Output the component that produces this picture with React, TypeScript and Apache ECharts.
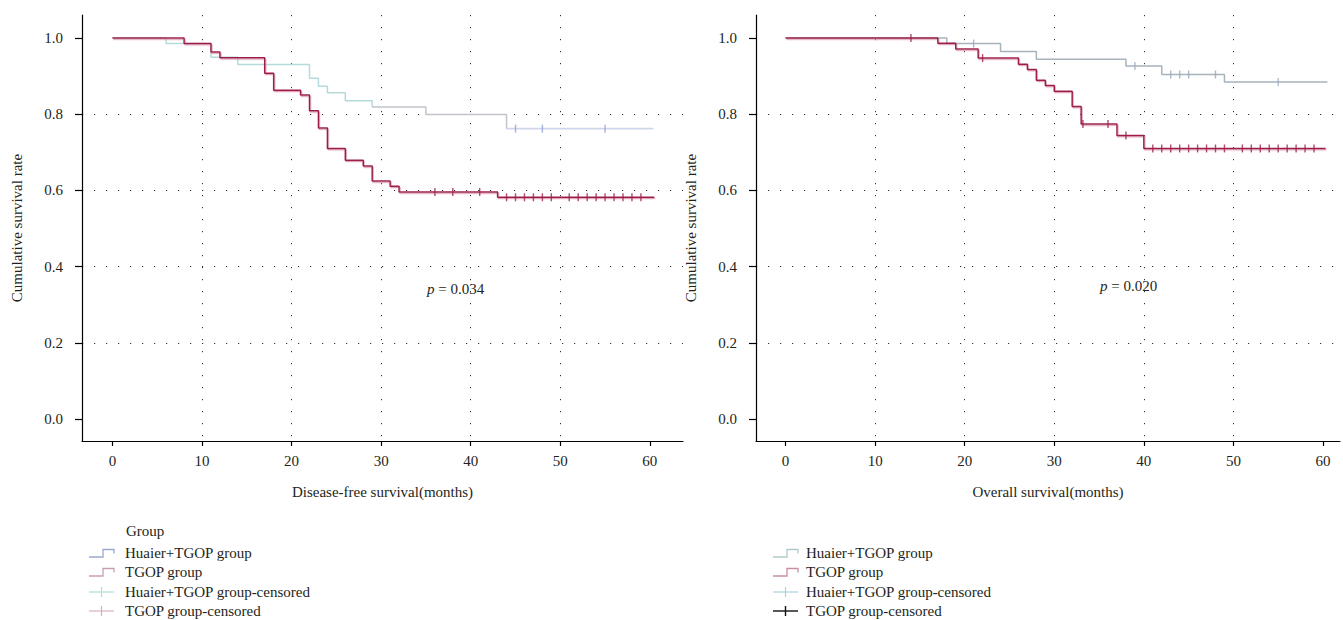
import React, { useEffect, useRef } from 'react';
import * as echarts from 'echarts';

// ---------- data ----------
const monthTicks = [0, 10, 20, 30, 40, 50, 60];
const rateTicks = [0, 0.2, 0.4, 0.6, 0.8, 1.0];

// Disease-free survival: [month, cumulative survival after the step]
const dfsHuaierCurve: [number, number][] = [
  [0, 1], [6, 0.985], [11, 0.949], [14, 0.93], [22, 0.894], [23, 0.873], [24, 0.856],
  [26, 0.835], [29, 0.819], [35, 0.799], [44, 0.762], [60.4, 0.762],
];
const dfsHuaierCensored = [45, 48, 55];
const dfsTgopCurve: [number, number][] = [
  [0, 1], [8, 0.985], [11, 0.963], [12, 0.948], [17, 0.907], [18, 0.863], [21, 0.85],
  [22, 0.809], [23, 0.764], [24, 0.71], [26, 0.679], [28, 0.664], [29, 0.625], [31, 0.611],
  [32, 0.596], [43, 0.582], [60.5, 0.582],
];
const dfsTgopCensored = [36, 38, 41, 44, 45, 46, 47, 48, 49, 51, 52, 53, 54, 55, 56, 57, 58, 59];

// Overall survival
const osHuaierCurve: [number, number][] = [
  [0, 1], [18, 0.985], [24, 0.964], [28, 0.944], [38, 0.926], [42, 0.904], [49, 0.884], [60.5, 0.884],
];
const osHuaierCensored = [21, 39, 43, 44, 45, 48, 55];
const osTgopCurve: [number, number][] = [
  [0, 1], [17, 0.986], [19, 0.971], [21.5, 0.947], [26, 0.931], [27, 0.917], [28, 0.889],
  [29, 0.875], [30, 0.86], [32, 0.82], [33, 0.774], [37, 0.744], [40, 0.71], [60.3, 0.71],
];
const osTgopCensored = [14, 22, 33.2, 36, 38, 41, 42, 43, 44, 45, 46, 47, 48, 49, 51, 52, 53, 54, 55, 56, 57, 58, 59];

const dfsP = '0.034';
const osP = '0.020';
const legendTitle = 'Group';
const legendItems = ['Huaier+TGOP group', 'TGOP group', 'Huaier+TGOP group-censored', 'TGOP group-censored'];
const xNames = ['Disease-free survival(months)', 'Overall survival(months)'];
const yName = 'Cumulative survival rate';

// ---------- helpers ----------
function survivalAt(curve: [number, number][], t: number) {
  let v = curve[0][1];
  for (const [x, y] of curve) {
    if (x <= t) v = y;
    else break;
  }
  return v;
}
function sliceCurve(curve: [number, number][], from: number, to: number): [number, number][] {
  const out: [number, number][] = [];
  if (!curve.some(([x]) => x === from)) out.push([from, survivalAt(curve, from)]);
  for (const p of curve) if (p[0] >= from && p[0] <= to) out.push(p);
  return out;
}
const censorPoints = (curve: [number, number][], times: number[]) => times.map((t) => [t, survivalAt(curve, t)]);

const FONT = '"Liberation Serif", "Times New Roman", serif';
const TEXT = '#231f20';
const RED = '#9e1f4b';

export default function App() {
  const ref = useRef<HTMLDivElement>(null);
  useEffect(() => {
    document.body.style.margin = '0';
    const chart = echarts.init(ref.current!, undefined, { renderer: 'svg' });

    const grids = [
      { left: 82, top: 15, width: 601, height: 426 },
      { left: 756, top: 15, width: 584, height: 426 },
    ];
    const xRanges = [[-3.4, 63.7], [-3.3, 61.9]];

    const xAxis = grids.map((_, i) => ({
      type: 'value', gridIndex: i, min: xRanges[i][0], max: xRanges[i][1], splitNumber: 6,
      name: xNames[i], nameLocation: 'middle', nameGap: 43,
      nameTextStyle: { fontFamily: FONT, fontSize: 15, color: TEXT },
      axisLine: { show: true, onZero: false, lineStyle: { color: '#000', width: 1.2 } },
      axisTick: { show: true, inside: false, length: 5, customValues: monthTicks, lineStyle: { color: '#000', width: 1.2 } },
      axisLabel: { customValues: monthTicks, fontFamily: FONT, fontSize: 15, color: TEXT, margin: 12 },
      splitLine: { show: true, showMinLine: false, showMaxLine: false, lineStyle: { type: [1.2, 10.8], color: '#333', width: 1 } },
    }));
    const yAxis = grids.map((_, i) => ({
      type: 'value', gridIndex: i, min: -0.057, max: 1.06, splitNumber: 5,
      name: yName, nameLocation: 'middle', nameGap: 58,
      nameTextStyle: { fontFamily: FONT, fontSize: 15, color: TEXT },
      axisLine: { show: true, onZero: false, lineStyle: { color: '#000', width: 1.2 } },
      axisTick: { show: true, inside: false, length: 7, customValues: rateTicks, lineStyle: { color: '#000', width: 1.2 } },
      axisLabel: { customValues: rateTicks, fontFamily: FONT, fontSize: 15, color: TEXT, margin: 19, formatter: (v: number) => v.toFixed(1) },
      splitLine: { show: true, showMinLine: false, showMaxLine: false, lineStyle: { type: [1.2, 10.8], color: '#333', width: 1 } },
    }));

    const stepLine = (data: [number, number][], gi: number, color: string, width = 1.4, shadow?: string) => ({
      type: 'line', step: 'end', xAxisIndex: gi, yAxisIndex: gi, data, symbol: 'none', silent: true,
      lineStyle: shadow
        ? { color, width, shadowColor: shadow, shadowOffsetX: 0.8, shadowOffsetY: 1.2, shadowBlur: 0 }
        : { color, width },
      z: 3,
    });
    const censor = (data: number[][], gi: number, color: string) => ({
      type: 'scatter', xAxisIndex: gi, yAxisIndex: gi, data, symbol: 'rect', symbolSize: [1.4, 8],
      itemStyle: { color }, silent: true, z: 5,
    });

    const series = [
      // DFS
      stepLine(sliceCurve(dfsHuaierCurve, 0, 29), 0, '#b4dada', 1.5),
      stepLine(sliceCurve(dfsHuaierCurve, 29, 44), 0, '#c2c4cb', 1.5),
      stepLine(sliceCurve(dfsHuaierCurve, 44, 61), 0, '#cfd6ec', 1.8),
      stepLine(dfsTgopCurve, 0, RED, 1.5, 'rgba(214,140,165,0.85)'),
      censor(censorPoints(dfsHuaierCurve, dfsHuaierCensored), 0, '#8e9fd4'),
      censor(censorPoints(dfsTgopCurve, dfsTgopCensored), 0, RED),
      // OS
      stepLine(osHuaierCurve, 1, '#a7b3bd', 1.5),
      stepLine(osTgopCurve, 1, RED, 1.5, 'rgba(214,140,165,0.85)'),
      censor(censorPoints(osHuaierCurve, osHuaierCensored), 1, '#98a7bb'),
      censor(censorPoints(osTgopCurve, osTgopCensored), 1, RED),
    ];

    const textEl = (x: number, y: number, text: string, extra: any = {}) => ({
      type: 'text', x, y, silent: true,
      style: { text, fontFamily: FONT, fontSize: 15, fill: TEXT, verticalAlign: 'middle', align: 'left', ...extra },
    });
    const stepIcon = (x: number, y: number, color: string) => ({
      type: 'polyline', silent: true,
      shape: { points: [[x, y + 4], [x + 14, y + 4], [x + 14, y - 3.5], [x + 25, y - 3.5], [x + 25, y + 0.5]] },
      style: { stroke: color, lineWidth: 1.3, fill: null },
    });
    const plusIcon = (x: number, y: number, color: string, w = 1.2) => ({
      type: 'group', silent: true,
      children: [
        { type: 'line', shape: { x1: x, y1: y, x2: x + 25, y2: y }, style: { stroke: color, lineWidth: w } },
        { type: 'line', shape: { x1: x + 12.5, y1: y - 5, x2: x + 12.5, y2: y + 5 }, style: { stroke: color, lineWidth: w } },
      ],
    });

    const rowsY = [553, 572, 592, 611];
    const leftIconColors = ['#9aaacb', '#c9a0b3'];
    const leftPlusColors = ['#b3dbd7', '#d8afc0'];
    const rightIconColors = ['#b2c9c9', '#c98ea2'];
    const rightPlusColors = ['#a9d3d8', '#111111'];

    const graphic: any[] = [
      textEl(126, 531, legendTitle),
      stepIcon(89, rowsY[0], leftIconColors[0]),
      stepIcon(89, rowsY[1], leftIconColors[1]),
      plusIcon(89, rowsY[2], leftPlusColors[0]),
      plusIcon(89, rowsY[3], leftPlusColors[1]),
      stepIcon(773, rowsY[0], rightIconColors[0]),
      stepIcon(773, rowsY[1], rightIconColors[1]),
      plusIcon(773, rowsY[2], rightPlusColors[0]),
      plusIcon(773, rowsY[3], rightPlusColors[1], 1.4),
      ...legendItems.map((t, i) => textEl(125, rowsY[i], t)),
      ...legendItems.map((t, i) => textEl(806, rowsY[i], t)),
      {
        type: 'text', x: 427, y: 289, silent: true,
        style: {
          text: '{i|p} = ' + dfsP, fontFamily: FONT, fontSize: 15, fill: TEXT, verticalAlign: 'middle',
          rich: { i: { fontStyle: 'italic', fontFamily: FONT, fontSize: 15, fill: TEXT } },
        },
      },
      {
        type: 'text', x: 1100, y: 286, silent: true,
        style: {
          text: '{i|p} = ' + osP, fontFamily: FONT, fontSize: 15, fill: TEXT, verticalAlign: 'middle',
          rich: { i: { fontStyle: 'italic', fontFamily: FONT, fontSize: 15, fill: TEXT } },
        },
      },
    ];

    chart.setOption({
      animation: false,
      backgroundColor: '#ffffff',
      grid: grids,
      xAxis,
      yAxis,
      series,
      graphic,
    } as any);

    return () => chart.dispose();
  }, []);
  return <div ref={ref} style={{ width: 1343, height: 620 }} />;
}
